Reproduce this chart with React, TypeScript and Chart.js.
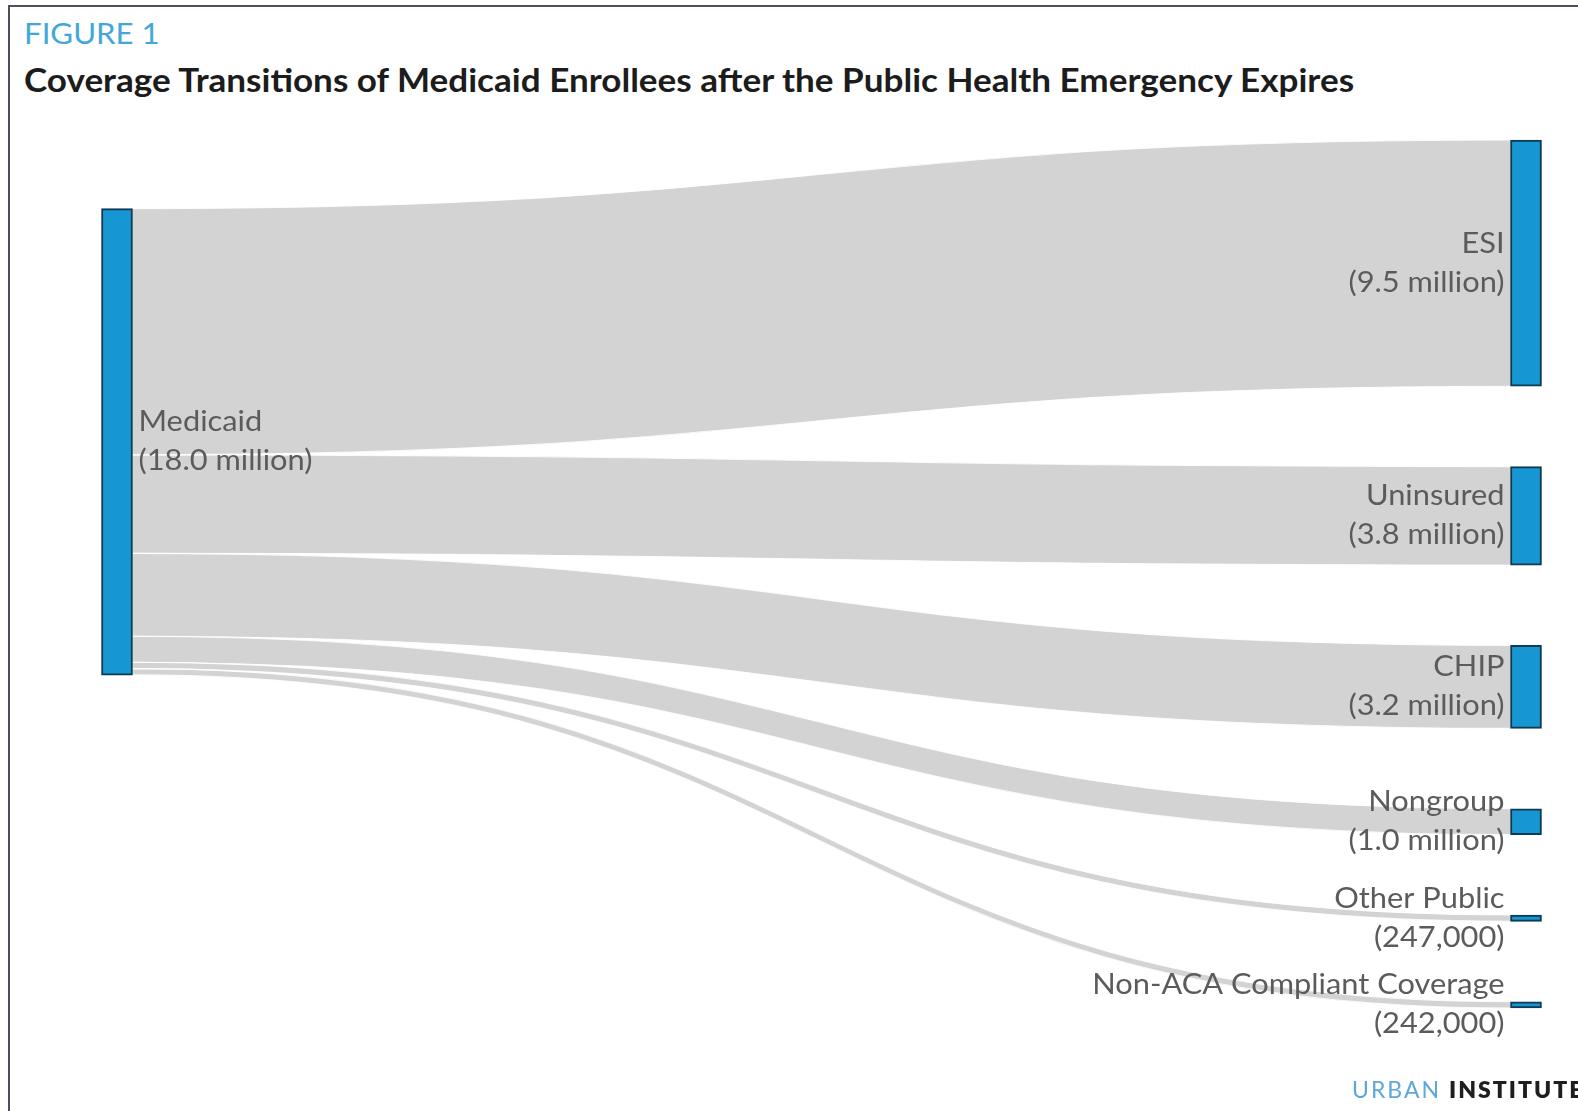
import React, { useEffect, useRef } from "react";
import { Chart, registerables } from "chart.js";

Chart.register(...registerables);

// Source node (left column)
const sourceName = "Medicaid";
const sourceValueLabel = "(18.0 million)";
const sourceTotal = 18.0; // millions

// Destination nodes (right column), top to bottom
const targetNames = [
  "ESI",
  "Uninsured",
  "CHIP",
  "Nongroup",
  "Other Public",
  "Non-ACA Compliant Coverage",
];
const targetValueLabels = [
  "(9.5 million)",
  "(3.8 million)",
  "(3.2 million)",
  "(1.0 million)",
  "(247,000)",
  "(242,000)",
];
const flowValues = [9.5, 3.8, 3.2, 1.0, 0.247, 0.242]; // millions

// Layout settings
const NODE_GAP = 3.1; // gap between destination nodes, in millions
const NODE_WIDTH = 31;
const LINE_GAP = 39;
const LABEL_FONT = "28px Lato, 'Open Sans', sans-serif";
const LABEL_STRETCH = 1.1;
const LABEL_COLOR = "#5b5b5b";
const LINK_COLOR = "#d3d3d3";
const NODE_COLOR = "#1696d2";
const NODE_BORDER = "#0f3a52";

type Span = { y0: number; y1: number };

// Sankey-style layout: destinations stacked with a fixed gap, source centred on
// the value-weighted centre of its destinations, links stacked in the source.
function computeLayout() {
  const targets: Span[] = [];
  let y = 0;
  flowValues.forEach((v) => {
    targets.push({ y0: y, y1: y + v });
    y += v + NODE_GAP;
  });
  const extent = y - NODE_GAP;
  let wsum = 0;
  let vsum = 0;
  flowValues.forEach((v, i) => {
    wsum += (v * (targets[i].y0 + targets[i].y1)) / 2;
    vsum += v;
  });
  const centre = wsum / vsum;
  const source: Span = { y0: centre - sourceTotal / 2, y1: centre + sourceTotal / 2 };
  let sy = source.y0;
  const links = flowValues.map((v, i) => {
    const l = { s0: sy, s1: sy + v, t0: targets[i].y0, t1: targets[i].y1 };
    sy += v;
    return l;
  });
  return { targets, source, links, extent };
}

function drawLabel(ctx: CanvasRenderingContext2D, text: string, x: number, y: number) {
  ctx.save();
  ctx.translate(x, y);
  ctx.scale(LABEL_STRETCH, 1);
  ctx.fillText(text, 0, 0);
  ctx.restore();
}

export default function App() {
  const canvasRef = useRef<HTMLCanvasElement | null>(null);

  useEffect(() => {
    const canvas = canvasRef.current;
    if (!canvas) return;
    const { targets, source, links, extent } = computeLayout();

    const linksPlugin = {
      id: "sankeyLinks",
      beforeDatasetsDraw(chart: any) {
        const { ctx } = chart;
        const xScale = chart.scales.x;
        const yScale = chart.scales.y;
        const xs = xScale.getPixelForValue(0) + NODE_WIDTH / 2;
        const xt = xScale.getPixelForValue(1) - NODE_WIDTH / 2;
        const xm = (xs + xt) / 2;
        ctx.save();
        links.forEach((l) => {
          const a0 = yScale.getPixelForValue(l.s0);
          const a1 = yScale.getPixelForValue(l.s1);
          const b0 = yScale.getPixelForValue(l.t0);
          const b1 = yScale.getPixelForValue(l.t1);
          ctx.beginPath();
          ctx.moveTo(xs, a0);
          ctx.bezierCurveTo(xm, a0, xm, b0, xt, b0);
          ctx.lineTo(xt, b1);
          ctx.bezierCurveTo(xm, b1, xm, a1, xs, a1);
          ctx.closePath();
          ctx.fillStyle = LINK_COLOR;
          ctx.fill();
        });
        // thin white separators along each band's edges
        ctx.strokeStyle = "rgba(255,255,255,0.85)";
        ctx.lineWidth = 1.1;
        links.forEach((l) => {
          const a0 = yScale.getPixelForValue(l.s0);
          const a1 = yScale.getPixelForValue(l.s1);
          const b0 = yScale.getPixelForValue(l.t0);
          const b1 = yScale.getPixelForValue(l.t1);
          ctx.beginPath();
          ctx.moveTo(xs, a0);
          ctx.bezierCurveTo(xm, a0, xm, b0, xt, b0);
          ctx.moveTo(xs, a1);
          ctx.bezierCurveTo(xm, a1, xm, b1, xt, b1);
          ctx.stroke();
        });
        ctx.restore();
      },
    };

    const labelsPlugin = {
      id: "sankeyLabels",
      afterDatasetsDraw(chart: any) {
        const { ctx } = chart;
        const xScale = chart.scales.x;
        const yScale = chart.scales.y;
        ctx.save();
        ctx.font = LABEL_FONT;
        ctx.fillStyle = LABEL_COLOR;
        ctx.textBaseline = "middle";
        // source label, to the right of the node
        const sc = yScale.getPixelForValue((source.y0 + source.y1) / 2);
        const sx = xScale.getPixelForValue(0) + NODE_WIDTH / 2 + 6;
        ctx.textAlign = "left";
        drawLabel(ctx, sourceName, sx, sc - LINE_GAP / 2);
        drawLabel(ctx, sourceValueLabel, sx, sc + LINE_GAP / 2);
        // destination labels, to the left of the nodes
        const tx = xScale.getPixelForValue(1) - NODE_WIDTH / 2 - 6;
        ctx.textAlign = "right";
        targets.forEach((t, i) => {
          const c = yScale.getPixelForValue((t.y0 + t.y1) / 2);
          drawLabel(ctx, targetNames[i], tx, c - LINE_GAP / 2);
          drawLabel(ctx, targetValueLabels[i], tx, c + LINE_GAP / 2);
        });
        ctx.restore();
      },
    };

    const nodeData = [
      { x: 0, y: [source.y0, source.y1] },
      ...targets.map((t) => ({ x: 1, y: [t.y0, t.y1] })),
    ];

    const chart = new Chart(canvas, {
      type: "bar",
      data: {
        datasets: [
          {
            data: nodeData as any,
            backgroundColor: NODE_COLOR,
            borderColor: NODE_BORDER,
            borderWidth: 2,
            borderSkipped: false,
            barThickness: NODE_WIDTH,
            clip: false as any,
          },
        ],
      },
      options: {
        responsive: false,
        animation: false,
        events: [],
        layout: { padding: { top: 140, bottom: 103, left: 117, right: 52 } },
        scales: {
          x: { type: "linear", min: 0, max: 1, offset: false, display: false },
          y: { type: "linear", min: 0, max: extent, reverse: true, display: false },
        },
        plugins: {
          legend: { display: false },
          tooltip: { enabled: false },
          title: { display: false },
        },
      },
      plugins: [linksPlugin, labelsPlugin],
    });

    if ((document as any).fonts?.ready) {
      (document as any).fonts.ready.then(() => chart.draw());
    }

    return () => chart.destroy();
  }, []);

  return (
    <div
      style={{
        position: "absolute",
        left: 0,
        top: 0,
        width: 1578,
        height: 1111,
        overflow: "hidden",
        background: "#ffffff",
        fontFamily: "Lato, 'Open Sans', sans-serif",
      }}
    >
      <div style={{ position: "absolute", left: 8, top: 5, width: 2, height: 1106, background: "#4e4e5e" }} />
      <div style={{ position: "absolute", left: 8, top: 5, width: 1570, height: 2, background: "#4e4e5e" }} />
      <div
        style={{
          position: "absolute",
          left: 24,
          top: 16,
          fontSize: 29,
          lineHeight: "34px",
          color: "#45a6d8",
          whiteSpace: "nowrap",
          transform: "scaleX(1.075)",
          transformOrigin: "left center",
        }}
      >
        FIGURE 1
      </div>
      <div
        style={{
          position: "absolute",
          left: 24,
          top: 61,
          fontSize: 32,
          lineHeight: "38px",
          fontWeight: 700,
          color: "#1c1c1c",
          whiteSpace: "nowrap",
          transform: "scaleX(1.096)",
          transformOrigin: "left center",
        }}
      >
        Coverage Transitions of Medicaid Enrollees after the Public Health Emergency Expires
      </div>
      <canvas
        ref={canvasRef}
        width={1578}
        height={1111}
        style={{ position: "absolute", left: 0, top: 0, width: 1578, height: 1111 }}
      />
      <div
        style={{
          position: "absolute",
          left: 1352,
          top: 1075,
          fontSize: 23,
          lineHeight: "28px",
          letterSpacing: 2,
          whiteSpace: "nowrap",
        }}
      >
        <span style={{ color: "#5fa8d6" }}>URBAN </span>
        <span style={{ color: "#1e1e1e", fontWeight: 800 }}>INSTITUTE</span>
      </div>
    </div>
  );
}
